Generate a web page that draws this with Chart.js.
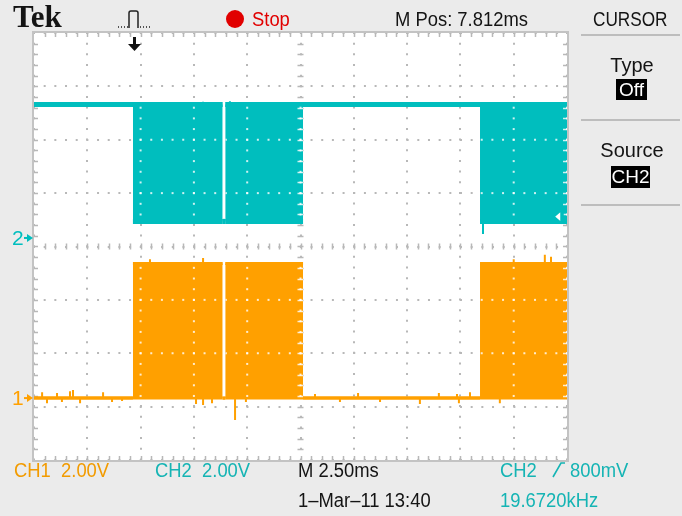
<!DOCTYPE html>
<html>
<head>
<meta charset="utf-8">
<script src="https://cdn.jsdelivr.net/npm/chart.js@4.4.1/dist/chart.umd.min.js"></script>
<style>
  html, body { margin: 0; padding: 0; background: #ebebeb; }
  #wrap { position: relative; width: 682px; height: 516px; overflow: hidden; }
  #scope { position: absolute; left: 0; top: 0; }
  .t { position: absolute; white-space: pre; font-family: "Liberation Sans", Arial, sans-serif;
       font-size: 20px; line-height: 1; color: #141414; transform-origin: 0 0; transform: scaleX(0.92); }
  .c { text-align: center; transform: none; }
  .box { position: absolute; background: #000; color: #fff; text-align: center;
         font-family: "Liberation Sans", Arial, sans-serif; font-size: 19px; }
  .sep { position: absolute; left: 581px; width: 99px; height: 2px; background: #bdbdbd; }
  .o { color: #f29b00; }
  .cy { color: #15b4b4; }
</style>
</head>
<body>
<div id="wrap">
  <canvas id="scope" width="682" height="516"></canvas>

  <div class="t" style="left:13px;top:1px;font-family:'Liberation Serif',serif;font-weight:bold;font-size:31px;transform:none;">Tek</div>
  <svg style="position:absolute;left:117px;top:8px" width="36" height="22">
    <path d="M1 19h1M4 19h1M7 19h1M10 19h1" stroke="#222" stroke-width="1.5"/>
    <path d="M12 20V5q0-2 2-2h5q2 0 2 2v15" fill="none" stroke="#222" stroke-width="1.5"/>
    <path d="M23 19h1M26 19h1M29 19h1M32 19h1" stroke="#222" stroke-width="1.5"/>
  </svg>
  <div style="position:absolute;left:226px;top:10px;width:18px;height:18px;border-radius:50%;background:#e10000;"></div>
  <div class="t" style="left:252px;top:9px;color:#e10000;">Stop</div>
  <div class="t" style="left:395px;top:9px;">M Pos: 7.812ms</div>
  <div class="t" style="left:593px;top:9px;transform:scaleX(0.86);">CURSOR</div>

  <div class="sep" style="top:34px"></div>
  <div class="t c" style="left:582px;top:55px;width:100px;">Type</div>
  <div class="box" style="left:616px;top:79px;width:31px;height:21px;line-height:21px;">Off</div>
  <div class="sep" style="top:119px"></div>
  <div class="t c" style="left:582px;top:140px;width:100px;">Source</div>
  <div class="box" style="left:611px;top:166px;width:39px;height:22px;line-height:22px;">CH2</div>
  <div class="sep" style="top:204px"></div>

  <div class="t o" style="left:14px;top:460px;">CH1  2.00V</div>
  <div class="t cy" style="left:155px;top:460px;">CH2  2.00V</div>
  <div class="t" style="left:298px;top:460px;">M 2.50ms</div>
  <div class="t cy" style="left:500px;top:460px;">CH2</div>
  <svg style="position:absolute;left:551px;top:461px" width="16" height="18">
    <path d="M2 16L10 2h4" fill="none" stroke="#15b4b4" stroke-width="1.6"/>
  </svg>
  <div class="t cy" style="left:570px;top:460px;">800mV</div>
  <div class="t" style="left:298px;top:490px;">1–Mar–11 13:40</div>
  <div class="t cy" style="left:500px;top:490px;">19.6720kHz</div>
</div>

<script>
// screen: 10 div x 2.5 ms, 8 div tall, both channels at 2.00 V/div
var voltsPerDiv = 2.0;
var ch1Offset = -2.84;     // ground marker, in divisions from centre
var ch2Offset = 0.16;
var triggerLevel = 0.8;    // V, CH2 rising edge
var triggerTime = 4.69;    // ms, trigger point marker

// envelope of each trace (min / max seen per time slice), V
var edgeTimes = [0, 4.64, 4.64, 8.85, 8.85, 8.97, 8.97, 12.62, 12.62, 20.92, 20.92, 25];
var ch1Upper  = [0, 0, 5.04, 5.04, 0, 0, 5.04, 5.04, 0, 0, 5.04, 5.04];
var ch1Lower  = [0, 0, 0, 0, 0, 0, 0, 0, 0, 0, 0, 0];
var ch2Upper  = [5.0, 5.0, 5.0, 5.0, 0.62, 0.62, 5.0, 5.0, 5.0, 5.0, 5.0, 5.0];
var ch2Lower  = [5.0, 5.0, 0.62, 0.62, 0.62, 0.62, 0.62, 0.62, 5.0, 5.0, 0.62, 0.62];

// noise spikes: time (ms) and peak (V)
var ch1SpikeTimes = [0.38, 0.61, 1.08, 1.31, 1.69, 1.83, 2.16, 3.24, 3.66, 4.13, 5.44, 7.60, 7.93, 7.93, 8.35,
                     9.43, 9.94, 13.18, 14.35, 15.20, 16.23, 18.10, 18.99, 19.84, 19.93, 20.45, 21.85, 22.5, 23.96, 24.25];
var ch1SpikePeaks = [0.22, -0.19, 0.19, -0.15, 0.26, 0.30, -0.19, 0.22, -0.15, -0.11, 5.2, -0.22, -0.26, 5.25, -0.19,
                     -0.82, -0.15, 0.15, -0.15, 0.19, -0.15, -0.22, 0.19, 0.15, -0.19, 0.22, -0.19, 5.2, 5.37, 5.3];
var ch2SpikeTimes = [7.93, 9.19, 21.06];
var ch2SpikePeaks = [5.1, 5.12, 0.15];

var orange = '#ffa000';
var cyan = '#00bebe';

function toDiv(v, off) { return off + v / voltsPerDiv; }

function trace(times, volts, off) {
  return times.map(function(t, i) { return {x: t, y: toDiv(volts[i], off)}; });
}

function spikes(times, peaks, off, hi, lo) {
  var pts = [];
  times.forEach(function(t, i) {
    var base = peaks[i] > hi / 2 ? hi : lo;
    pts.push({x: t, y: toDiv(base, off)}, {x: t, y: toDiv(peaks[i], off)}, {x: t, y: null});
  });
  return pts;
}

// vertical steps of the envelopes are left to the fill, so edges and gaps stay sharp
var flatOnly = {
  borderColor: function(c) { return c.p0.parsed.x === c.p1.parsed.x ? 'rgba(0,0,0,0)' : undefined; }
};

// filled blocks in pixel space, for the light graticule drawn over them
function blocks(chart, upper, lower, off) {
  var xs = chart.scales.x, ys = chart.scales.y, out = [];
  for (var i = 0; i < edgeTimes.length - 1; i++) {
    if (edgeTimes[i + 1] > edgeTimes[i] && upper[i] > lower[i]) {
      var x0 = xs.getPixelForValue(edgeTimes[i]), x1 = xs.getPixelForValue(edgeTimes[i + 1]);
      var y0 = ys.getPixelForValue(toDiv(upper[i], off)), y1 = ys.getPixelForValue(toDiv(lower[i], off));
      out.push([x0, y0, x1 - x0, y1 - y0]);
    }
  }
  return out;
}

function dots(chart, ctx) {
  var xs = chart.scales.x, ys = chart.scales.y;
  for (var t = 0; t <= 25.001; t += 2.5) {
    for (var d = -4; d <= 4.001; d += 0.2) ctx.fillRect(xs.getPixelForValue(t) - 1, ys.getPixelForValue(d) - 1, 2, 2);
  }
  for (var d2 = -4; d2 <= 4; d2 += 1) {
    for (var t2 = 0; t2 <= 25.001; t2 += 0.5) ctx.fillRect(xs.getPixelForValue(t2) - 1, ys.getPixelForValue(d2) - 1, 2, 2);
  }
}

// minor marks on the frame and on the two centre lines
function marks(chart, ctx) {
  var a = chart.chartArea, xs = chart.scales.x, ys = chart.scales.y;
  var cx = xs.getPixelForValue(12.5), cy = ys.getPixelForValue(0);
  ctx.beginPath();
  for (var t = 0.5; t < 25; t += 0.5) {
    var x = Math.round(xs.getPixelForValue(t)) + 0.5;
    ctx.moveTo(x, a.top); ctx.lineTo(x, a.top + 4);
    ctx.moveTo(x, a.bottom); ctx.lineTo(x, a.bottom - 4);
    ctx.moveTo(x, cy - 3); ctx.lineTo(x, cy + 3);
  }
  for (var d = -3.8; d < 4; d += 0.2) {
    var y = Math.round(ys.getPixelForValue(d)) + 0.5;
    ctx.moveTo(a.left, y); ctx.lineTo(a.left + 4, y);
    ctx.moveTo(a.right, y); ctx.lineTo(a.right - 4, y);
    ctx.moveTo(cx - 3, y); ctx.lineTo(cx + 3, y);
  }
  ctx.stroke();
}

var scopeScreen = {
  id: 'scopeScreen',
  beforeDraw: function(chart) {
    var a = chart.chartArea, ctx = chart.ctx;
    ctx.save();
    ctx.fillStyle = '#ffffff';
    ctx.fillRect(a.left, a.top, a.right - a.left, a.bottom - a.top);
    ctx.restore();
  },
  beforeDatasetsDraw: function(chart) {
    var a = chart.chartArea, ctx = chart.ctx;
    ctx.save();
    ctx.strokeStyle = '#c3c3c3';
    ctx.lineWidth = 2;
    ctx.strokeRect(a.left - 1, a.top - 1, a.right - a.left + 2, a.bottom - a.top + 2);
    ctx.lineWidth = 1.5;
    ctx.strokeStyle = '#b8b8b8';
    marks(chart, ctx);
    ctx.restore();
  },
  afterDatasetsDraw: function(chart) {
    var ctx = chart.ctx;
    ctx.save();
    ctx.beginPath();
    blocks(chart, ch1Upper, ch1Lower, ch1Offset).concat(blocks(chart, ch2Upper, ch2Lower, ch2Offset))
      .forEach(function(r) { ctx.rect(r[0], r[1], r[2], r[3]); });
    ctx.clip();
    ctx.fillStyle = 'rgba(255,255,255,0.8)';
    ctx.strokeStyle = 'rgba(255,255,255,0.8)';
    ctx.lineWidth = 1.5;
    dots(chart, ctx);
    marks(chart, ctx);
    ctx.restore();
  },
  afterDraw: function(chart) {
    var a = chart.chartArea, ctx = chart.ctx, xs = chart.scales.x, ys = chart.scales.y;
    ctx.save();

    // channel ground markers
    ctx.font = '21px "Liberation Sans", Arial, sans-serif';
    ctx.textBaseline = 'middle';
    [[ch1Offset, '1', orange], [ch2Offset, '2', cyan]].forEach(function(m) {
      var y = ys.getPixelForValue(m[0]);
      ctx.fillStyle = m[2];
      ctx.fillText(m[1], 12, y + 1);
      ctx.fillRect(24, y - 1, 5, 2);
      ctx.beginPath();
      ctx.moveTo(27, y - 4); ctx.lineTo(33, y); ctx.lineTo(27, y + 4); ctx.closePath();
      ctx.fill();
    });

    // trigger level (right edge) and trigger point (top)
    var ty = ys.getPixelForValue(toDiv(triggerLevel, ch2Offset));
    ctx.strokeStyle = cyan;
    ctx.fillStyle = '#ffffff';
    ctx.lineWidth = 1.5;
    ctx.beginPath();
    ctx.moveTo(a.right - 13, ty); ctx.lineTo(a.right - 6, ty - 6); ctx.lineTo(a.right - 6, ty + 6); ctx.closePath();
    ctx.fill(); ctx.stroke();
    ctx.beginPath(); ctx.moveTo(a.right - 4, ty - 6); ctx.lineTo(a.right - 4, ty + 6); ctx.stroke();

    var tx = xs.getPixelForValue(triggerTime);
    ctx.fillStyle = '#111';
    ctx.fillRect(tx - 1, a.top + 4, 3, 8);
    ctx.beginPath();
    ctx.moveTo(tx - 6, a.top + 11); ctx.lineTo(tx + 7, a.top + 11); ctx.lineTo(tx + 0.5, a.top + 18); ctx.closePath();
    ctx.fill();
    ctx.restore();
  }
};

function gridAxis(min, max, step, period) {
  return {
    type: 'linear', min: min, max: max,
    ticks: { display: false, stepSize: step },
    grid: { color: '#b8b8b8', lineWidth: 2, drawTicks: false },
    border: { display: false, dash: [2, period - 2], dashOffset: 1 }
  };
}

var ctx = document.getElementById('scope').getContext('2d');
window.scope = new Chart(ctx, {
  type: 'line',
  data: {
    datasets: [
      { label: 'CH2 max', data: trace(edgeTimes, ch2Upper, ch2Offset), borderColor: cyan, borderWidth: 5,
        fill: false, segment: flatOnly },
      { label: 'CH2 min', data: trace(edgeTimes, ch2Lower, ch2Offset), borderColor: cyan, borderWidth: 5,
        fill: '-1', backgroundColor: cyan, segment: flatOnly },
      { label: 'CH2 spikes', data: spikes(ch2SpikeTimes, ch2SpikePeaks, ch2Offset, 5.0, 0.62),
        borderColor: cyan, borderWidth: 2, spanGaps: false },
      { label: 'CH1 max', data: trace(edgeTimes, ch1Upper, ch1Offset), borderColor: orange, borderWidth: 3,
        fill: false, segment: flatOnly },
      { label: 'CH1 min', data: trace(edgeTimes, ch1Lower, ch1Offset), borderColor: orange, borderWidth: 3,
        fill: '-1', backgroundColor: orange, segment: flatOnly },
      { label: 'CH1 spikes', data: spikes(ch1SpikeTimes, ch1SpikePeaks, ch1Offset, 5.04, 0),
        borderColor: orange, borderWidth: 2, spanGaps: false }
    ]
  },
  options: {
    animation: false,
    responsive: false,
    devicePixelRatio: 1,
    layout: { padding: { left: 34, top: 33, right: 115, bottom: 56 } },
    elements: { point: { radius: 0 }, line: { tension: 0, borderCapStyle: 'butt' } },
    plugins: { legend: { display: false }, tooltip: { enabled: false } },
    scales: {
      x: gridAxis(0, 25, 2.5, 53.3 / 5),
      y: gridAxis(-4, 4, 1, 53.375 / 5)
    }
  },
  plugins: [scopeScreen]
});
</script>
</body>
</html>
